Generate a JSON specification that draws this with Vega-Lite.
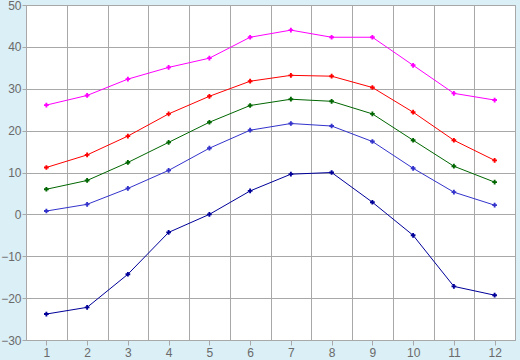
{
  "$schema": "https://vega.github.io/schema/vega-lite/v6.json",
  "width": 489,
  "height": 335,
  "autosize": {"type": "none"},
  "padding": {"left": 26, "top": 5, "right": 5, "bottom": 20},
  "background": "#daeff6",
  "config": {
    "view": {"fill": "#ffffff", "stroke": "#a8a8a8", "strokeWidth": 1},
    "axis": {
      "gridColor": "#a8a8a8", "gridOpacity": 1, "gridWidth": 1,
      "domain": false, "tickColor": "#a8a8a8", "tickSize": 5,
      "labelColor": "#6a6a6a", "labelFont": "Liberation Sans", "labelFontSize": 12,
      "title": null
    }
  },
  "data": {"values": [
    {"month": 1, "series": "max", "value": 26.1},
    {"month": 2, "series": "max", "value": 28.4},
    {"month": 3, "series": "max", "value": 32.3},
    {"month": 4, "series": "max", "value": 35.1},
    {"month": 5, "series": "max", "value": 37.3},
    {"month": 6, "series": "max", "value": 42.3},
    {"month": 7, "series": "max", "value": 44.0},
    {"month": 8, "series": "max", "value": 42.3},
    {"month": 9, "series": "max", "value": 42.3},
    {"month": 10, "series": "max", "value": 35.6},
    {"month": 11, "series": "max", "value": 28.9},
    {"month": 12, "series": "max", "value": 27.3},
    {"month": 1, "series": "avgmax", "value": 11.2},
    {"month": 2, "series": "avgmax", "value": 14.2},
    {"month": 3, "series": "avgmax", "value": 18.7},
    {"month": 4, "series": "avgmax", "value": 24.0},
    {"month": 5, "series": "avgmax", "value": 28.2},
    {"month": 6, "series": "avgmax", "value": 31.8},
    {"month": 7, "series": "avgmax", "value": 33.2},
    {"month": 8, "series": "avgmax", "value": 33.0},
    {"month": 9, "series": "avgmax", "value": 30.3},
    {"month": 10, "series": "avgmax", "value": 24.4},
    {"month": 11, "series": "avgmax", "value": 17.7},
    {"month": 12, "series": "avgmax", "value": 12.9},
    {"month": 1, "series": "mean", "value": 6.0},
    {"month": 2, "series": "mean", "value": 8.1},
    {"month": 3, "series": "mean", "value": 12.4},
    {"month": 4, "series": "mean", "value": 17.2},
    {"month": 5, "series": "mean", "value": 22.0},
    {"month": 6, "series": "mean", "value": 26.0},
    {"month": 7, "series": "mean", "value": 27.5},
    {"month": 8, "series": "mean", "value": 27.0},
    {"month": 9, "series": "mean", "value": 24.0},
    {"month": 10, "series": "mean", "value": 17.7},
    {"month": 11, "series": "mean", "value": 11.5},
    {"month": 12, "series": "mean", "value": 7.7},
    {"month": 1, "series": "avgmin", "value": 0.8},
    {"month": 2, "series": "avgmin", "value": 2.4},
    {"month": 3, "series": "avgmin", "value": 6.2},
    {"month": 4, "series": "avgmin", "value": 10.5},
    {"month": 5, "series": "avgmin", "value": 15.8},
    {"month": 6, "series": "avgmin", "value": 20.1},
    {"month": 7, "series": "avgmin", "value": 21.7},
    {"month": 8, "series": "avgmin", "value": 21.1},
    {"month": 9, "series": "avgmin", "value": 17.4},
    {"month": 10, "series": "avgmin", "value": 11.0},
    {"month": 11, "series": "avgmin", "value": 5.3},
    {"month": 12, "series": "avgmin", "value": 2.2},
    {"month": 1, "series": "min", "value": -23.8},
    {"month": 2, "series": "min", "value": -22.2},
    {"month": 3, "series": "min", "value": -14.3},
    {"month": 4, "series": "min", "value": -4.3},
    {"month": 5, "series": "min", "value": 0.0},
    {"month": 6, "series": "min", "value": 5.6},
    {"month": 7, "series": "min", "value": 9.6},
    {"month": 8, "series": "min", "value": 10.0},
    {"month": 9, "series": "min", "value": 2.9},
    {"month": 10, "series": "min", "value": -5.0},
    {"month": 11, "series": "min", "value": -17.2},
    {"month": 12, "series": "min", "value": -19.3}
  ]},
  "encoding": {
    "y": {
      "field": "value", "type": "quantitative",
      "scale": {"domain": [-30, 50], "nice": false, "zero": false},
      "axis": {"values": [-30, -20, -10, 0, 10, 20, 30, 40, 50], "tickSize": 4, "labelPadding": 1, "grid": true}
    },
    "color": {
      "field": "series", "type": "nominal", "legend": null,
      "scale": {"domain": ["max", "avgmax", "mean", "avgmin", "min"],
                "range": ["#ff00ff", "#ff0000", "#006600", "#3333cc", "#000099"]}
    },
    "detail": {"field": "series"}
  },
  "layer": [
    {
      "mark": {"type": "line", "strokeWidth": 1},
      "encoding": {
        "x": {
          "field": "month", "type": "quantitative",
          "scale": {"domain": [0.5, 12.5], "nice": false, "zero": false},
          "axis": {"orient": "bottom", "values": [1,2,3,4,5,6,7,8,9,10,11,12], "grid": false, "format": "d", "labelPadding": 2}
        }
      }
    },
    {
      "mark": {"type": "point", "shape": "cross", "filled": true, "size": 22, "opacity": 1},
      "encoding": {
        "x": {
          "field": "month", "type": "quantitative",
          "axis": {"orient": "top", "values": [0.5,1.5,2.5,3.5,4.5,5.5,6.5,7.5,8.5,9.5,10.5,11.5,12.5], "grid": true, "labels": false, "ticks": false, "domain": false}
        }
      }
    }
  ],
  "resolve": {"axis": {"x": "independent"}}
}
